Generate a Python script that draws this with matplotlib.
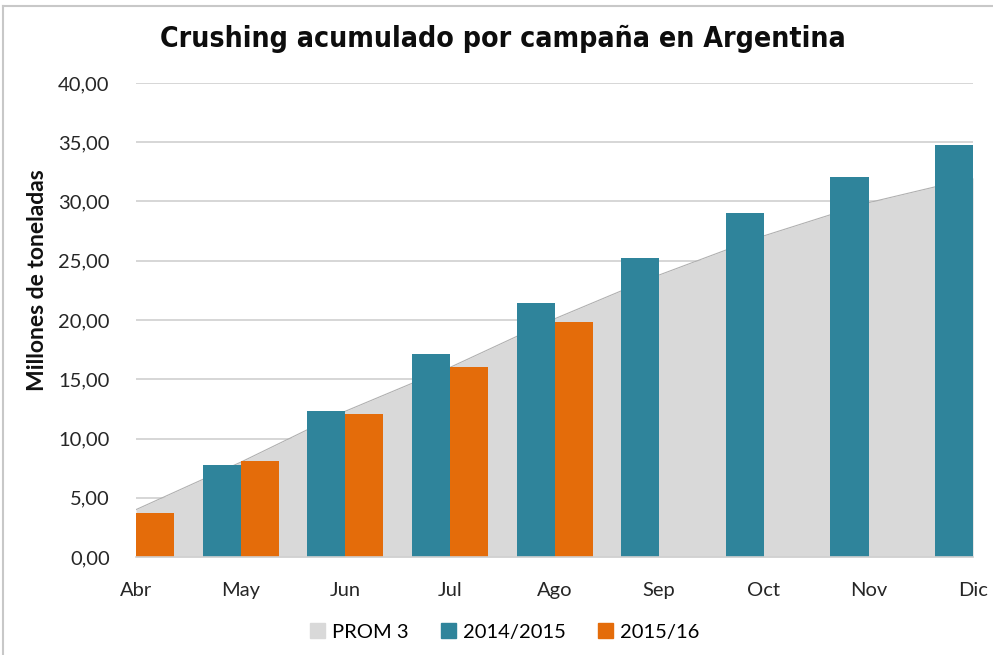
#! /usr/bin/env python3

import numpy as np
import matplotlib
matplotlib.use('Agg')
import matplotlib.pyplot as plt
from matplotlib.lines import Line2D
from matplotlib.patches import Patch

# data
meses = ['Abr', 'May', 'Jun', 'Jul', 'Ago', 'Sep', 'Oct', 'Nov', 'Dic']
prom3 = [4.0, 8.0, 12.3, 16.0, 20.1, 23.8, 27.1, 29.9, 32.0]
c2014 = [4.25, 7.8, 12.3, 17.1, 21.4, 25.2, 29.05, 32.1, 34.75]
c2015 = [3.75, 8.1, 12.05, 16.05, 19.8]

TEAL = '#2f849b'
ORANGE = '#e46c0a'
GRAY = '#d9d9d9'

plt.rcParams['font.family'] = ['Lato', 'DejaVu Sans']

fig = plt.figure(figsize=(9.93, 6.55), dpi=100)
ax = fig.add_axes([0.137, 0.1496, 0.843, 0.7237])

x = np.arange(len(meses))
w = 0.364

# area
ax.fill_between(x, prom3, color=GRAY, zorder=2, linewidth=0)
ax.plot(x, prom3, color='#b0b0b0', lw=0.8, zorder=2)

# bars
ax.bar(x - w/2, c2014, w, color=TEAL, zorder=3)
ax.bar(x[:len(c2015)] + w/2, c2015, w, color=ORANGE, zorder=3)

ax.set_xlim(0, len(meses) - 1)
ax.set_ylim(0, 40)
ax.set_yticks(np.arange(0, 41, 5))
ax.set_yticklabels(['{:.2f}'.format(v).replace('.', ',') for v in np.arange(0, 41, 5)])
ax.set_xticks(x)
ax.set_xticklabels(meses)
ax.yaxis.grid(True, color='#d0d0d0', lw=1.2, zorder=0)
ax.set_axisbelow(True)
for s in ['left', 'right', 'top']:
	ax.spines[s].set_visible(False)
ax.spines['bottom'].set_color('#d0d0d0')
ax.spines['bottom'].set_linewidth(1.2)
ax.spines['bottom'].set_zorder(4)
ax.tick_params(axis='both', length=0, labelsize=14.5, colors='#262626')
ax.tick_params(axis='x', pad=18)
ax.tick_params(axis='y', pad=19)

ax.set_ylabel('Millones de toneladas', fontsize=16.5, fontweight='bold', color='#111111')
ax.yaxis.set_label_coords(-0.105, 0.585)

fig.text(0.506, 0.94, 'Crushing acumulado por campaña en Argentina', ha='center', va='center',
	fontsize=20.4, fontweight='bold', fontstretch='condensed', family='DejaVu Sans', color='#0d0d0d')

handles = [Patch(color=GRAY), Patch(color=TEAL), Patch(color=ORANGE)]
fig.legend(handles, ['PROM 3', '2014/2015', '2015/16'], loc='center', bbox_to_anchor=(0.508, 0.035),
	ncol=3, frameon=False, fontsize=14.5, handlelength=0.75, handleheight=0.75, handletextpad=0.35,
	columnspacing=1.6)

# outer chart border
fig.add_artist(Line2D([0.003, 0.003], [0, 0.991], color='#c8c8c8', lw=1.5, transform=fig.transFigure))
fig.add_artist(Line2D([0.003, 1], [0.991, 0.991], color='#c8c8c8', lw=1.5, transform=fig.transFigure))

fig.savefig('out.png', dpi=100)
